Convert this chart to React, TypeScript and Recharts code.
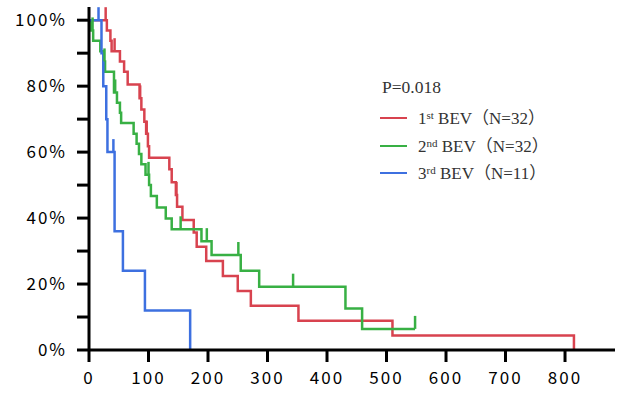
import React from "react";
import { LineChart, Line, XAxis, YAxis } from "recharts";

// Kaplan-Meier curves: day, survival (%) and censor flag (1 = censored)
const bev1Days = [0, 28, 30, 36, 38, 43, 52, 59, 65, 85, 86, 88, 93, 96, 97, 99, 101, 135, 139, 146, 147, 148, 157, 176, 181, 197, 225, 250, 272, 352, 510, 815];
const bev1Surv = [100, 100, 96.9, 93.8, 90.6, 90.6, 87.5, 84.4, 80.5, 76.3, 76.3, 72.9, 69.2, 65.6, 65.6, 61.8, 58.3, 54.8, 50.9, 47, 47, 43.4, 39.4, 35.6, 31.3, 27, 22.4, 17.9, 13.4, 8.9, 4.4, 0];
const bev1Cens = [0, 1, 0, 0, 0, 1, 0, 0, 0, 0, 1, 0, 0, 0, 1, 0, 0, 0, 0, 0, 1, 0, 0, 0, 0, 0, 0, 0, 0, 0, 0, 0];

const bev2Days = [0, 4, 6, 7, 19, 25, 26, 27, 42, 44, 47, 52, 54, 75, 80, 84, 88, 95, 100, 101, 104, 114, 129, 139, 154, 189, 198, 206, 251, 255, 286, 343, 431, 459, 548];
const bev2Surv = [100, 96.9, 96.9, 93.8, 90.6, 87.5, 87.5, 84.4, 78.1, 78.1, 75, 71.9, 68.8, 65.6, 62.5, 59.4, 56.3, 53.1, 53.1, 50, 46.7, 43.2, 39.9, 36.6, 36.6, 33, 33, 28.8, 28.8, 24, 19.2, 19.2, 12.6, 6.4, 6.4];
const bev2Cens = [0, 0, 1, 0, 0, 0, 1, 0, 0, 1, 0, 0, 0, 0, 0, 0, 0, 0, 1, 0, 0, 0, 0, 0, 1, 0, 1, 0, 1, 0, 0, 1, 0, 0, 1];

const bev3Days = [0, 16, 21, 24, 29, 31, 41, 43, 57, 94, 170];
const bev3Surv = [100, 100, 90, 80, 70, 60, 60, 36, 24, 12, 0];
const bev3Cens = [0, 1, 0, 0, 0, 0, 1, 0, 0, 0, 0];

const xTicks = [0, 100, 200, 300, 400, 500, 600, 700, 800];
const yTicks = [0, 10, 20, 30, 40, 50, 60, 70, 80, 90, 100];

const toPoints = (days: number[], surv: number[], cens: number[]) =>
	days.map((t, i) => ({ t, s: surv[i], c: cens[i] }));

const bev1 = toPoints(bev1Days, bev1Surv, bev1Cens);
const bev2 = toPoints(bev2Days, bev2Surv, bev2Cens);
const bev3 = toPoints(bev3Days, bev3Surv, bev3Cens);

const RED = "#d8434f";
const GREEN = "#38b044";
const BLUE = "#3d70e0";

const censorDot = (color: string) => (props: any) => {
	const { cx, cy, payload, index } = props;
	if (!payload || !payload.c) return <g key={`d${index}`} />;
	return (
		<line
			key={`d${index}`}
			x1={cx}
			x2={cx}
			y1={cy}
			y2={cy - 13}
			stroke={color}
			strokeWidth={2.5}
		/>
	);
};

const tickFont = {
	fill: "#000",
	fontSize: 17,
	fontFamily: "'Noto Sans CJK JP', sans-serif",
	letterSpacing: 2,
};

const legendRows = [
	{ color: RED, num: "1", sup: "st", n: "32" },
	{ color: GREEN, num: "2", sup: "nd", n: "32" },
	{ color: BLUE, num: "3", sup: "rd", n: "11" },
];

export default function App() {
	return (
		<div style={{ position: "absolute", left: 0, top: 0, width: 619, height: 397, background: "#fff" }}>
			<LineChart width={619} height={397} margin={{ top: 7, right: 4, left: 0, bottom: 0 }}>
				<XAxis
					type="number"
					dataKey="t"
					domain={[0, 884]}
					ticks={xTicks}
					allowDataOverflow
					height={47}
					tickSize={12}
					tickMargin={10}
					axisLine={{ stroke: "#000", strokeWidth: 3 }}
					tickLine={{ stroke: "#000", strokeWidth: 3 }}
					tick={tickFont}
				/>
				<YAxis
					type="number"
					dataKey="s"
					domain={[0, 104]}
					ticks={yTicks}
					allowDataOverflow
					width={89}
					tickSize={12}
					tickMargin={10}
					interval={0}
					tickFormatter={(v: number) => (v % 20 === 0 ? `${v}%` : "")}
					axisLine={{ stroke: "#000", strokeWidth: 3 }}
					tickLine={{ stroke: "#000", strokeWidth: 3 }}
					tick={tickFont}
				/>
				<Line data={bev1} dataKey="s" type="stepAfter" stroke={RED} strokeWidth={2.5} dot={censorDot(RED)} activeDot={false} isAnimationActive={false} />
				<Line data={bev2} dataKey="s" type="stepAfter" stroke={GREEN} strokeWidth={2.5} dot={censorDot(GREEN)} activeDot={false} isAnimationActive={false} />
				<Line data={bev3} dataKey="s" type="stepAfter" stroke={BLUE} strokeWidth={2.5} dot={censorDot(BLUE)} activeDot={false} isAnimationActive={false} />
			</LineChart>
			<div
				style={{
					position: "absolute",
					left: 382,
					top: 76,
					fontFamily: "'Liberation Serif', 'Times New Roman', serif",
					fontSize: 17.5,
					color: "#333",
					lineHeight: "22px",
				}}
			>
				<div>P=0.018</div>
				{legendRows.map((r) => (
					<div key={r.num} style={{ position: "relative", height: 27.5, marginLeft: -2, top: 4 }}>
						<span style={{ position: "absolute", left: 0, top: 15, width: 27, height: 0, borderTop: `2px solid ${r.color}` }} />
						<span style={{ position: "absolute", left: 38, top: 4, whiteSpace: "nowrap", fontSize: 17 }}>
							{r.num}
							<sup style={{ fontSize: 11, verticalAlign: 0, position: "relative", top: -5 }}>{r.sup}</sup> BEV
							<span style={{ fontFamily: "'Noto Sans CJK JP', serif" }}>（</span>N={r.n}
							<span style={{ fontFamily: "'Noto Sans CJK JP', serif" }}>）</span>
						</span>
					</div>
				))}
			</div>
		</div>
	);
}
